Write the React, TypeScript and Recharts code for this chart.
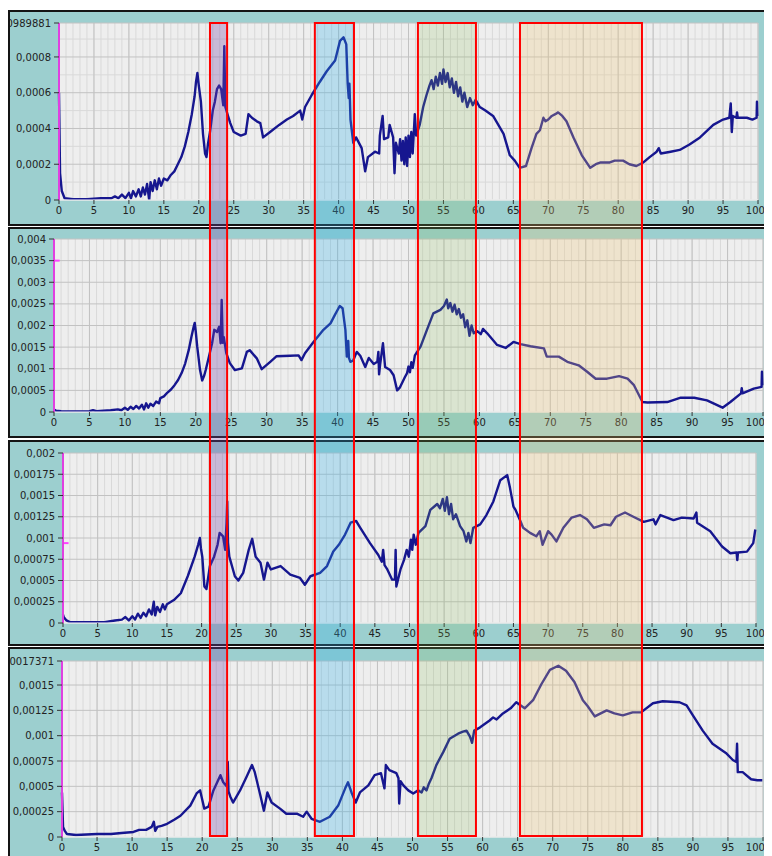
import React from 'react';
import {
  LineChart, Line, XAxis, YAxis, CartesianGrid, ReferenceLine,
  ComposedChart, ReferenceArea,
} from 'recharts';

// Four spectra sharing the 0..100 scan axis, each [position, intensity]
const trace1: [number, number][] = [
  [0, 0.0006], [0.15, 0.00015], [0.4, 0.00005], [0.8, 0.00001], [2, 0.000005], [4, 0.000005],
  [6, 0.00001], [7.5, 0.00001], [8, 0.00002], [8.5, 0.00001], [9, 0.00003], [9.5, 0.00001],
  [10, 0.00004], [10.3, 0.00001], [10.6, 0.00005], [11, 0.00002], [11.4, 0.00006], [11.7, 0.00002],
  [12, 0.00007], [12.3, 0.00003], [12.6, 0.00009], [12.9, 0.0], [13.1, 0.0001], [13.4, 0.00005],
  [13.7, 0.00011], [14, 0.00006], [14.3, 0.00012], [14.6, 0.00008], [15, 0.00012], [15.5, 0.00011],
  [16, 0.00014], [16.5, 0.00016], [17, 0.0002], [17.5, 0.00024], [18, 0.0003], [18.5, 0.00038],
  [19, 0.00048], [19.4, 0.00058], [19.6, 0.00066], [19.8, 0.00071], [20, 0.00064], [20.3, 0.00055],
  [20.6, 0.00037], [20.9, 0.00026], [21.1, 0.00024], [21.3, 0.00031], [21.6, 0.00038], [22, 0.0005],
  [22.3, 0.00055], [22.6, 0.00062], [22.9, 0.00064], [23.2, 0.00062], [23.5, 0.00053], [23.65, 0.00086],
  [23.8, 0.00052], [24.1, 0.00048], [24.5, 0.00043], [25, 0.00038], [26, 0.00036], [26.7, 0.00037],
  [27.1, 0.00048], [27.6, 0.00046], [28.3, 0.00044], [28.8, 0.00043], [29.2, 0.00035], [30.2, 0.00038],
  [31.5, 0.00042], [32.6, 0.00045], [33.5, 0.00047], [34.5, 0.0005], [34.8, 0.00045], [35.2, 0.00052],
  [36.2, 0.00059], [37.3, 0.00066], [38.3, 0.00072], [39.5, 0.00078], [40.2, 0.00089], [40.7, 0.00091],
  [41.1, 0.00087], [41.3, 0.00065], [41.45, 0.00057], [41.55, 0.00065], [41.7, 0.00045], [42.1, 0.00032],
  [42.5, 0.00035], [43.3, 0.00029], [43.8, 0.00016], [44.2, 0.00024], [45.2, 0.00027], [45.8, 0.00026],
  [45.9, 0.00036], [46.3, 0.00047], [46.5, 0.00034], [47.1, 0.00035], [47.3, 0.00042], [47.8, 0.00035],
  [48.0, 0.00015], [48.2, 0.00032], [48.6, 0.00026], [48.8, 0.00034], [49.0, 0.00022], [49.2, 0.00033],
  [49.4, 0.0002], [49.6, 0.00035], [49.8, 0.00019], [50.0, 0.00036], [50.2, 0.00024], [50.4, 0.00038],
  [50.6, 0.00026], [50.9, 0.00048], [51.1, 0.00036], [51.6, 0.00042], [52.1, 0.00052], [52.6, 0.00059],
  [53.0, 0.00064], [53.3, 0.00067], [53.6, 0.00062], [53.9, 0.00069], [54.2, 0.00064], [54.5, 0.00071],
  [54.8, 0.00065], [55.0, 0.00073], [55.3, 0.00066], [55.6, 0.00071], [55.9, 0.00063], [56.2, 0.00068],
  [56.5, 0.0006], [56.8, 0.00066], [57.1, 0.00058], [57.4, 0.00063], [57.7, 0.00055], [58.0, 0.0006],
  [58.4, 0.00052], [58.8, 0.00057], [59.2, 0.00053], [59.6, 0.00056], [60.2, 0.00052], [61.0, 0.0005],
  [62.1, 0.00047], [63.0, 0.00041], [63.6, 0.00037], [64.5, 0.00025], [65.2, 0.00022], [65.9, 0.00018],
  [66.8, 0.00019], [67.6, 0.00029], [68.3, 0.00037], [68.8, 0.00039], [69.3, 0.00046], [69.6, 0.00044],
  [70.0, 0.00045], [70.5, 0.00047], [71.0, 0.00048], [71.4, 0.00049], [72.0, 0.00047], [72.6, 0.00044],
  [73.6, 0.00035], [74.8, 0.00025], [76.0, 0.00018], [76.8, 0.0002], [77.5, 0.00021], [78.8, 0.00021],
  [79.5, 0.00022], [80.7, 0.00022], [81.6, 0.0002], [82.6, 0.00019], [83.6, 0.00021], [84.5, 0.00024],
  [85.5, 0.00027], [85.8, 0.00029], [86.1, 0.00026], [87.5, 0.00027], [88.8, 0.00028], [90.2, 0.00031],
  [91.7, 0.00035], [93.6, 0.00042], [95.0, 0.00045], [95.9, 0.00046], [96.1, 0.00054], [96.25, 0.00038],
  [96.4, 0.00047], [96.9, 0.00046], [97.0, 0.00049], [97.1, 0.00046], [98.4, 0.00046], [99.2, 0.00045],
  [99.8, 0.00046], [99.85, 0.00055], [99.9, 0.00047],
];

const trace2: [number, number][] = [
  [0, 0.00006], [0.3, 0.00003], [1, 0.00002], [3, 0.00001], [5, 0.00002], [5.5, 0.00004], [6, 0.00002],
  [8, 0.00004], [9, 0.00006], [9.5, 0.00004], [10, 0.0001], [10.4, 0.00005], [10.8, 0.00012],
  [11.2, 0.00007], [11.6, 0.00014], [12, 0.00008], [12.4, 0.00017], [12.7, 0.00006], [13, 0.0002],
  [13.3, 0.0001], [13.6, 0.00019], [14, 0.00014], [14.4, 0.00024], [14.8, 0.0002], [15, 0.00032],
  [15.5, 0.00036], [16, 0.00045], [16.5, 0.00052], [17, 0.00062], [17.5, 0.00074], [18, 0.0009],
  [18.5, 0.00112], [19, 0.00143], [19.4, 0.00175], [19.7, 0.00197], [19.85, 0.00206], [20.0, 0.00185],
  [20.2, 0.00151], [20.6, 0.00097], [20.9, 0.00073], [21.2, 0.00085], [21.4, 0.00097], [21.9, 0.00131],
  [22.3, 0.00159], [22.6, 0.0019], [23, 0.00185], [23.3, 0.00197], [23.5, 0.00159], [23.65, 0.00259],
  [23.8, 0.0016], [23.95, 0.00173], [24.3, 0.00136], [24.8, 0.00113], [25.5, 0.00097], [26.5, 0.00101],
  [27.2, 0.00139], [27.6, 0.00143], [28.6, 0.00124], [29.3, 0.00099], [30.5, 0.00116], [31.4, 0.00129],
  [33.3, 0.0013], [34.5, 0.00131], [34.9, 0.0012], [35.4, 0.00136], [36.6, 0.00162], [38.0, 0.0019],
  [39.0, 0.00205], [39.6, 0.00224], [40.3, 0.00245], [40.7, 0.0024], [41.1, 0.0019], [41.3, 0.00128],
  [41.5, 0.00164], [41.6, 0.00125], [41.8, 0.00116], [42.2, 0.00119], [42.7, 0.00139], [43.2, 0.0013],
  [43.9, 0.00104], [44.4, 0.00125], [45.1, 0.00111], [45.6, 0.00116], [45.75, 0.00139], [45.85, 0.00087],
  [46.0, 0.0011], [46.4, 0.00159], [46.7, 0.00104], [47.4, 0.00097], [47.9, 0.00085], [48.4, 0.0005],
  [48.8, 0.00057], [49.5, 0.00081], [49.8, 0.0009], [50.0, 0.00105], [50.2, 0.00092], [50.4, 0.00115],
  [50.6, 0.00102], [50.9, 0.00131], [51.7, 0.00151], [52.6, 0.0019], [53.5, 0.00228], [54.5, 0.00236],
  [55.0, 0.00245], [55.4, 0.0026], [55.6, 0.0024], [55.9, 0.00252], [56.2, 0.00232], [56.5, 0.00248],
  [56.8, 0.00226], [57.1, 0.00238], [57.4, 0.00218], [57.7, 0.00226], [58.0, 0.00196], [58.3, 0.00212],
  [58.6, 0.00176], [58.9, 0.002], [59.2, 0.00182], [59.7, 0.00187], [60.2, 0.0018], [60.5, 0.00192],
  [61.1, 0.00182], [62.5, 0.00155], [63.7, 0.00148], [64.8, 0.00162], [65.8, 0.00157], [67.2, 0.00152],
  [69.1, 0.00147], [69.5, 0.00128], [71.2, 0.00128], [72.4, 0.00116], [74.0, 0.00108], [75.2, 0.00093],
  [76.4, 0.00077], [78.0, 0.00077], [79.7, 0.00083], [80.9, 0.00077], [81.8, 0.00062], [83.0, 0.00023],
  [83.7, 0.00022], [86.5, 0.00023], [88.4, 0.00033], [90.3, 0.00033], [92.1, 0.00027], [94.3, 0.0001],
  [95.4, 0.00023], [96.9, 0.00043], [97.0, 0.00055], [97.1, 0.00043], [98.7, 0.00054], [99.8, 0.00058],
  [99.85, 0.00093], [99.9, 0.00062],
];

const trace3: [number, number][] = [
  [0, 0.0001], [0.1, 0.00007], [0.5, 0.00003], [1, 0.00001], [3, 0.00001], [6, 0.00001], [7.5, 0.00003],
  [8.5, 0.00004], [9, 0.00007], [9.5, 0.00003], [10, 0.00008], [10.4, 0.00004], [10.8, 0.00011],
  [11.2, 0.00006], [11.6, 0.00012], [12, 0.00008], [12.4, 0.00016], [12.8, 0.0001], [13.1, 0.00025],
  [13.3, 0.00009], [13.6, 0.00019], [14, 0.00013], [14.4, 0.00022], [14.7, 0.00016], [15, 0.00022],
  [16, 0.00027], [17, 0.00035], [18, 0.00055], [19, 0.00078], [19.5, 0.00092], [19.75, 0.001],
  [19.9, 0.00088], [20.1, 0.00078], [20.4, 0.00043], [20.7, 0.0004], [21.2, 0.00067], [21.8, 0.00078],
  [22.3, 0.00092], [22.6, 0.00106], [23.1, 0.00102], [23.4, 0.00086], [23.6, 0.00118], [23.7, 0.00143],
  [23.8, 0.00095], [24.0, 0.00078], [24.8, 0.00055], [25.3, 0.0005], [26, 0.00059], [26.8, 0.00086],
  [27.3, 0.00099], [27.8, 0.00078], [28.5, 0.00071], [29.0, 0.00051], [29.5, 0.00071], [30.0, 0.00063],
  [31.4, 0.00067], [32.8, 0.00057], [34.2, 0.00053], [34.9, 0.00045], [35.7, 0.00055], [37.1, 0.00059],
  [38.1, 0.00067], [39.0, 0.00084], [39.8, 0.00092], [40.7, 0.00104], [41.5, 0.00118], [42.3, 0.0012],
  [42.9, 0.00112], [44.3, 0.00094], [45.5, 0.0008], [46.0, 0.00072], [46.2, 0.00086], [46.4, 0.00068],
  [46.8, 0.00063], [47.5, 0.00051], [47.9, 0.00051], [48.0, 0.00086], [48.1, 0.00043], [48.7, 0.00063],
  [49.2, 0.00074], [49.6, 0.00086], [49.9, 0.00078], [50.2, 0.00098], [50.4, 0.00086], [50.6, 0.00104],
  [50.9, 0.00092], [51.3, 0.00106], [52.3, 0.00114], [53.0, 0.00133], [54.0, 0.0014], [54.4, 0.00135],
  [54.8, 0.00146], [55.1, 0.00132], [55.4, 0.00148], [55.7, 0.00128], [56.0, 0.0014], [56.3, 0.00122],
  [56.7, 0.00128], [57.3, 0.00114], [57.8, 0.00108], [58.2, 0.00096], [58.5, 0.00106], [58.8, 0.00094],
  [59.2, 0.00112], [60.2, 0.00116], [61.1, 0.00127], [62.1, 0.00143], [63.1, 0.00168], [64.1, 0.00174],
  [64.5, 0.00159], [65.0, 0.00137], [65.3, 0.00133], [66.0, 0.0012], [66.4, 0.00112], [67.4, 0.00106],
  [68.3, 0.00102], [68.8, 0.00108], [69.2, 0.00092], [70.0, 0.00108], [70.5, 0.00104], [71.2, 0.00096],
  [72.2, 0.00112], [73.4, 0.00124], [74.6, 0.00127], [75.6, 0.00122], [76.6, 0.00112], [78.1, 0.00116],
  [79.0, 0.00115], [79.8, 0.00125], [81.1, 0.0013], [82.3, 0.00125], [83.8, 0.00119], [85.2, 0.00122],
  [85.5, 0.00116], [86.2, 0.00127], [88.1, 0.00121], [89.3, 0.00124], [91.0, 0.00123], [91.4, 0.0013],
  [91.5, 0.00118], [93.4, 0.00108], [95.1, 0.0009], [96.3, 0.00082], [97.2, 0.00083], [97.3, 0.00074],
  [97.4, 0.00083], [98.7, 0.00084], [99.6, 0.00094], [99.9, 0.0011],
];

const trace4: [number, number][] = [
  [0, 0.00044], [0.15, 0.0001], [0.4, 0.00006], [0.7, 0.00003], [2, 0.00002], [5, 0.00003], [7, 0.00003],
  [8.5, 0.00004], [10.2, 0.00005], [11, 0.00007], [12, 0.00007], [12.8, 0.0001], [13.1, 0.00015],
  [13.3, 0.00006], [13.6, 0.0001], [14.2, 0.00011], [15, 0.00013], [16, 0.00017], [16.9, 0.00021],
  [18.3, 0.00031], [19.2, 0.00043], [19.7, 0.00046], [19.9, 0.0004], [20.3, 0.00028], [20.9, 0.0003],
  [21.6, 0.00046], [22.6, 0.00061], [23.0, 0.00054], [23.5, 0.0005], [23.65, 0.00074], [23.75, 0.00045],
  [24.0, 0.0004], [24.4, 0.00034], [25.4, 0.00046], [26.3, 0.00059], [27.1, 0.00071], [27.5, 0.00064],
  [28.3, 0.00041], [28.8, 0.00026], [29.3, 0.00044], [29.9, 0.00034], [31.1, 0.00028], [32.0, 0.00023],
  [33.5, 0.00023], [34.4, 0.0002], [34.9, 0.00025], [35.6, 0.00018], [36.8, 0.00015], [38.2, 0.0002],
  [39.4, 0.00031], [40.4, 0.00048], [40.8, 0.00054], [41.3, 0.00044], [41.9, 0.00034], [42.5, 0.00044],
  [43.7, 0.00051], [44.6, 0.00061], [45.5, 0.00063], [46.0, 0.00048], [46.2, 0.00071], [46.7, 0.00066],
  [47.7, 0.00063], [48.0, 0.00058], [48.1, 0.00033], [48.3, 0.00055], [48.7, 0.00051], [49.4, 0.00046],
  [50.1, 0.00043], [50.8, 0.00046], [51.3, 0.00044], [51.6, 0.00049], [52.0, 0.00046], [52.3, 0.00052],
  [52.7, 0.00058], [53.4, 0.00071], [54.4, 0.00084], [55.3, 0.00097], [56.5, 0.00102], [57.2, 0.00104],
  [57.7, 0.00105], [58.2, 0.00099], [58.5, 0.00093], [58.8, 0.00105], [59.6, 0.00108], [61.0, 0.00115],
  [61.5, 0.00118], [62.0, 0.00116], [62.9, 0.00122], [64.0, 0.00127], [64.8, 0.00133], [66.0, 0.00127],
  [67.2, 0.00135], [68.4, 0.00151], [69.6, 0.00165], [70.8, 0.00169], [71.9, 0.00164], [73.1, 0.00153],
  [74.3, 0.00135], [75.0, 0.00129], [76.0, 0.00119], [77.7, 0.00125], [78.8, 0.00122], [80.0, 0.0012],
  [81.4, 0.00123], [82.6, 0.00123], [84.3, 0.00132], [85.7, 0.00134], [88.1, 0.00133], [89.1, 0.0013],
  [90.0, 0.0012], [91.4, 0.00105], [92.8, 0.00092], [94.7, 0.00083], [95.7, 0.00076], [96.2, 0.00074],
  [96.3, 0.00092], [96.4, 0.00064], [97.1, 0.00064], [98.3, 0.00057], [99.2, 0.00056], [99.9, 0.00056],
];

// Axis ticks
const xTicks = [0, 5, 10, 15, 20, 25, 30, 35, 40, 45, 50, 55, 60, 65, 70, 75, 80, 85, 90, 95, 100];
const yTicks1 = [0, 0.0002, 0.0004, 0.0006, 0.0008, 0.000989881];
const yTicks2 = [0, 0.0005, 0.001, 0.0015, 0.002, 0.0025, 0.003, 0.0035, 0.004];
const yTicks3 = [0, 0.00025, 0.0005, 0.00075, 0.001, 0.00125, 0.0015, 0.00175, 0.002];
const yTicks4 = [0, 0.00025, 0.0005, 0.00075, 0.001, 0.00125, 0.0015, 0.0017371];

// Highlighted regions across all four panels
const bandFrom = [21.6, 36.6, 51.35, 65.95];
const bandTo = [24.05, 42.2, 59.65, 83.4];
const bandFill = ['#7a4aa8', '#2fb0ea', '#8cbc5a', '#f0c878'];
const bandOpacity = [0.32, 0.28, 0.2, 0.27];

const TEAL = '#9ccfcf';
const NAVY = '#16168f';
const MAGENTA = '#e040e0';
const FONT = 'DejaVu Sans, Verdana, sans-serif';
// x labels are nudged left so they stay inside the frame
const LABEL_LIMIT = 755;

const minorX = Array.from({ length: 101 }, (_, i) => i);

const fmt = (v: number) => (v === 0 ? '0' : String(v).replace('.', ','));

function renderXTick(props: any) {
  const { x, y, payload } = props;
  const text = String(payload.value);
  const half = text.length * 3.2;
  const cx = Math.min(Number(x), LABEL_LIMIT - half);
  return (
    <text key={text} x={cx} y={Number(y)} dy="0.71em" textAnchor="middle" fontSize={10} fontFamily={FONT} fill="#222222">
      {text}
    </text>
  );
}

interface PanelProps {
  points: [number, number][];
  top: number;
  outerW: number;
  outerH: number;
  yWidth: number;
  mTop: number;
  mRight: number;
  xH: number;
  yTicks: number[];
  minorY?: number[];
  marker?: number;
}

function Panel({ points, top, outerW, outerH, yWidth, mTop, mRight, xH, yTicks, minorY, marker }: PanelProps) {
  const rows = points.map(([x, y]) => ({ x, y }));
  const yMax = yTicks[yTicks.length - 1];
  const w = outerW - 4;
  const h = outerH - 4;
  return (
    <div
      style={{
        position: 'absolute', left: 0, top, width: outerW, height: outerH,
        boxSizing: 'border-box', border: '2px solid #141414', background: TEAL, overflow: 'hidden',
      }}
    >
      <LineChart width={w} height={h} data={rows} margin={{ top: mTop, right: mRight, bottom: 0, left: 0 }}>
        <CartesianGrid
          fill="#eeeeee"
          stroke="#d9d9d9"
          verticalValues={minorX}
          horizontalValues={minorY ?? []}
          horizontal={!!minorY}
        />
        <CartesianGrid stroke="#c2c2c2" />
        <XAxis
          type="number"
          dataKey="x"
          domain={[0, 100]}
          ticks={xTicks}
          interval={0}
          height={xH}
          tickSize={4}
          tickMargin={3}
          axisLine={{ stroke: '#ffffff' }}
          tickLine={{ stroke: '#333333' }}
          tick={renderXTick}
        />
        <YAxis
          type="number"
          domain={[0, yMax]}
          ticks={yTicks}
          interval={0}
          width={yWidth}
          tickSize={5}
          tickMargin={3}
          allowDataOverflow
          axisLine={{ stroke: MAGENTA, strokeWidth: 2 }}
          tickLine={{ stroke: '#333333' }}
          tickFormatter={fmt}
          tick={{ fontSize: 10, fontFamily: FONT, fill: '#222222' }}
        />
        {marker !== undefined && (
          <ReferenceLine
            segment={[{ x: 0, y: marker }, { x: 0.8, y: marker }]}
            stroke="#ff44ff"
            strokeWidth={2}
            ifOverflow="visible"
          />
        )}
        <Line
          type="linear"
          dataKey="y"
          stroke={NAVY}
          strokeWidth={2.4}
          dot={false}
          isAnimationActive={false}
          strokeLinejoin="round"
        />
      </LineChart>
    </div>
  );
}

export default function App() {
  const bandRows = [{ x: 0, y: 0 }, { x: 100, y: 1 }];
  return (
    <div style={{ position: 'relative', width: 764, height: 848, overflow: 'hidden', fontFamily: FONT }}>
      <Panel points={trace1} top={2} outerW={800} outerH={216} yWidth={49} mTop={11} mRight={48} xH={24}
        yTicks={yTicks1} minorY={[0.0001, 0.0003, 0.0005, 0.0007, 0.0009]} />
      <Panel points={trace2} top={219} outerW={800} outerH={211} yWidth={44} mTop={10} mRight={43} xH={24}
        yTicks={yTicks2} marker={0.0035} />
      <Panel points={trace3} top={432} outerW={760} outerH={206} yWidth={53} mTop={11} mRight={10} xH={21}
        yTicks={yTicks3} marker={0.00094} />
      <Panel points={trace4} top={639} outerW={800} outerH={216} yWidth={52} mTop={12} mRight={43} xH={24}
        yTicks={yTicks4} />

      <div style={{ position: 'absolute', left: 0, top: 0, width: 764, height: 848, pointerEvents: 'none' }}>
        <ComposedChart width={764} height={848} data={bandRows} margin={{ top: 15, right: 14, bottom: 20, left: 51 }}>
          <XAxis type="number" dataKey="x" domain={[0, 100]} hide />
          <YAxis type="number" dataKey="y" domain={[0, 1]} hide />
          <Line dataKey="y" stroke="none" dot={false} isAnimationActive={false} />
          {bandFrom.map((from, i) => (
            <ReferenceArea
              key={i}
              x1={from}
              x2={bandTo[i]}
              y1={0}
              y2={1}
              fill={bandFill[i]}
              fillOpacity={bandOpacity[i]}
              stroke="#ff0000"
              strokeWidth={2}
              ifOverflow="visible"
            />
          ))}
        </ComposedChart>
      </div>
    </div>
  );
}
